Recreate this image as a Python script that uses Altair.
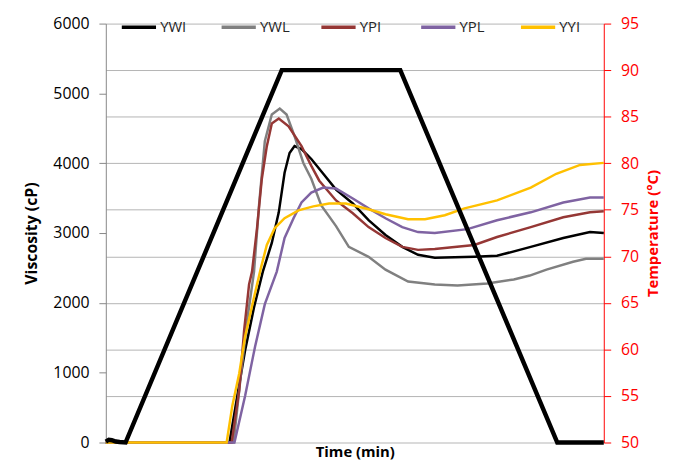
import altair as alt
import pandas as pd

series_names = ["YWI", "YWL", "YPI", "YPL", "YYI"]
series_colors = ["#000000", "#808080", "#953735", "#7f63a2", "#ffc000"]

ywi_time = [0, 7.45, 7.92, 8.39, 8.93, 9.46, 10.00, 10.42, 10.77, 11.07, 11.37, 11.79, 12.38, 13.10,
            13.87, 14.88, 15.83, 16.85, 17.86, 18.81, 19.82, 22.20, 23.57, 25.60, 27.56, 29.17, 30.00]
ywi_visc = [0, 0, 665, 1316, 1939, 2448, 2858, 3297, 3863, 4146, 4245, 4203, 4061, 3849,
            3622, 3424, 3184, 2972, 2802, 2689, 2646, 2660, 2674, 2802, 2929, 3014, 3000]

ywl_time = [0, 7.70, 8.10, 8.51, 8.93, 9.23, 9.58, 10.00, 10.48, 10.89, 11.37, 11.90, 12.38, 12.98,
            13.87, 14.64, 15.83, 16.85, 18.21, 19.82, 21.19, 22.98, 24.58, 25.54, 26.55, 28.15, 28.93, 30.00]
ywl_visc = [0, 0, 891, 1740, 2448, 3396, 4316, 4698, 4783, 4698, 4387, 4004, 3778, 3396,
            3099, 2802, 2660, 2476, 2306, 2264, 2250, 2278, 2335, 2391, 2476, 2589, 2632, 2632]

ypi_time = [0, 7.58, 8.04, 8.33, 8.63, 8.81, 9.11, 9.40, 9.70, 10.00, 10.42, 11.01, 11.79, 12.38,
            12.86, 13.87, 14.88, 15.83, 16.85, 17.86, 18.81, 19.82, 22.20, 23.57, 25.60, 27.56, 29.17, 30.00]
ypi_visc = [0, 0, 750, 1599, 2264, 2448, 3071, 3778, 4245, 4570, 4641, 4528, 4245, 3962,
            3750, 3467, 3283, 3085, 2929, 2802, 2759, 2773, 2830, 2943, 3085, 3226, 3297, 3311]

ypl_time = [0, 7.75, 8.39, 8.99, 9.58, 10.30, 10.77, 11.31, 11.79, 12.38, 13.10, 13.87, 14.88, 15.83,
            16.85, 17.86, 18.81, 19.82, 21.79, 23.57, 25.60, 27.56, 29.17, 30.00]
ypl_visc = [0, 0, 665, 1373, 1981, 2448, 2929, 3212, 3438, 3580, 3651, 3637, 3495, 3354,
            3212, 3085, 3014, 3000, 3056, 3184, 3297, 3438, 3509, 3509]

yyi_time = [0, 7.28, 7.62, 8.04, 8.39, 8.93, 9.35, 9.70, 10.18, 10.77, 11.61, 12.50, 13.45, 14.46,
            15.83, 16.85, 18.21, 19.23, 20.42, 21.61, 23.57, 25.60, 27.14, 28.57, 30.00]
yyi_visc = [0, 0, 524, 991, 1514, 2080, 2505, 2830, 3071, 3212, 3325, 3382, 3424, 3424,
            3340, 3269, 3198, 3198, 3255, 3354, 3467, 3651, 3849, 3976, 4005]

temp_time = [0, 0.18, 0.36, 0.60, 0.83, 1.19, 10.60, 17.74, 27.20, 30.00]
temp_value = [50.1, 50.3, 50.25, 50.1, 50.05, 50.0, 90.0, 90.0, 50.0, 50.0]

visc_ticks = [0, 1000, 2000, 3000, 4000, 5000, 6000]
temp_ticks = [50, 55, 60, 65, 70, 75, 80, 85, 90, 95]

rows = []
for name, ts, vs in zip(series_names,
                        [ywi_time, ywl_time, ypi_time, ypl_time, yyi_time],
                        [ywi_visc, ywl_visc, ypi_visc, ypl_visc, yyi_visc]):
    for i, (t, v) in enumerate(zip(ts, vs)):
        rows.append({"series": name, "time": t, "visc": v, "idx": i})
visc_df = pd.DataFrame(rows)
temp_df = pd.DataFrame({"time": temp_time, "temp": temp_value})

FONT = "Open Sans"

x_enc = alt.X(
    "time:Q",
    scale=alt.Scale(domain=[0, 30], nice=False, zero=False),
    axis=alt.Axis(title="Time (min)", labels=False, ticks=False, domain=False, grid=False,
                  titleFont=FONT, titleFontSize=15, titleFontWeight="bold", titleColor="#000000",
                  titlePadding=2),
)

visc = alt.Chart(visc_df).mark_line(strokeWidth=2.5).encode(
    x=x_enc,
    y=alt.Y("visc:Q", scale=alt.Scale(domain=[0, 6000], nice=False),
            axis=alt.Axis(title="Viscosity (cP)", values=visc_ticks, format="d", grid=False,
                          tickSize=7, tickColor="#868686", domainColor="#868686", labelFont=FONT,
                          labelFontSize=16, labelColor="#000000", labelPadding=10,
                          titleFont=FONT, titleFontSize=16, titleFontWeight="bold",
                          titleColor="#000000", titlePadding=14)),
    color=alt.Color("series:N", scale=alt.Scale(domain=series_names, range=series_colors),
                    legend=alt.Legend(orient="none", legendX=14, legendY=-16, direction="horizontal",
                                      columns=5, title=None, symbolType="stroke", symbolSize=1200,
                                      symbolStrokeWidth=3.5, labelFont=FONT, labelFontSize=15,
                                      labelColor="#262626", labelOffset=2, columnPadding=24,
                                      gridAlign="all", padding=0)),
    order="idx:Q",
)

temp = alt.Chart(temp_df).mark_line(color="#000000", strokeWidth=4.5).encode(
    x=x_enc,
    y=alt.Y("temp:Q", scale=alt.Scale(domain=[50, 95], nice=False, zero=False),
            axis=alt.Axis(orient="right", title="Temperature (°C)", values=temp_ticks, grid=True,
                          gridColor="#b4b4b4", gridWidth=1, tickSize=7, tickColor="#ff0000",
                          domainColor="#ff0000", labelFont=FONT, labelFontSize=16,
                          labelColor="#ff0000", labelPadding=10, titleFont=FONT, titleFontSize=15,
                          titleFontWeight="bold", titleColor="#ff0000", titleAngle=270,
                          titleBaseline="top", titlePadding=7)),
)

chart = alt.layer(visc, temp).resolve_scale(y="independent").properties(
    width=504, height=424,
    autosize=alt.AutoSizeParams(type="none"),
    padding={"left": 99, "top": 13, "right": 65, "bottom": 21},
).configure_view(stroke=None)

chart.save("out.html", embed_options={"renderer": "svg", "actions": False})
